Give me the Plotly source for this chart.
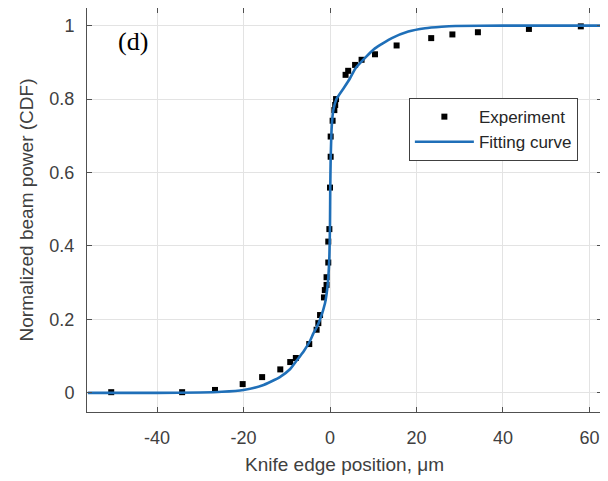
import plotly.graph_objects as go

exp_x = [-50.6, -34.2, -26.6, -20.2, -15.7, -11.5, -9.2, -7.9, -4.8, -3.1, -2.7, -2.3,
         -1.4, -1.2, -0.8, -0.8, -0.4, -0.4, -0.15, 0.0, 0.15, 0.15, 0.6, 1.0, 1.2, 1.4,
         3.6, 4.2, 5.8, 7.3, 10.4, 15.4, 23.4, 28.3, 34.2, 46.0, 58.0]
exp_y = [0.002, 0.002, 0.008, 0.024, 0.043, 0.064, 0.084, 0.095, 0.133, 0.172, 0.19, 0.212,
         0.26, 0.28, 0.294, 0.315, 0.355, 0.412, 0.446, 0.559, 0.643, 0.698, 0.741, 0.77, 0.784, 0.80,
         0.866, 0.877, 0.893, 0.907, 0.922, 0.946, 0.966, 0.976, 0.982, 0.991, 0.998]

# Fitting curve
fit_x = [-56, -40, -30, -25, -20, -15.7, -11.6, -9.2, -7.7, -6.0, -4.6, -3.85, -3.1, -2.3,
         -1.16, -0.5, -0.15, 0.0, 0.05, 0.15, 0.4, 0.77, 1.5, 3.3, 4.6, 5.8, 8.1, 10.4,
         14.3, 18.1, 22.0, 25.8, 29.0, 40.0, 63.0]
fit_y = [0.0, 0.0, 0.001, 0.003, 0.008, 0.02, 0.043, 0.065, 0.088, 0.115, 0.142, 0.162, 0.178, 0.2,
         0.244, 0.299, 0.371, 0.462, 0.55, 0.634, 0.725, 0.77, 0.8, 0.832, 0.856, 0.882, 0.912, 0.938,
         0.966, 0.984, 0.993, 0.997, 0.999, 1.0, 1.0]

x_ticks = [-40, -20, 0, 20, 40, 60]
x_ticktext = ["-40", "-20", "0", "20", "40", "60"]
y_ticks = [0, 0.2, 0.4, 0.6, 0.8, 1]
y_ticktext = ["0", "0.2", "0.4", "0.6", "0.8", "1"]

font_family = "Liberation Sans, Arial, sans-serif"
text_color = "#404040"

fig = go.Figure()
fig.add_trace(go.Scatter(
    x=exp_x, y=exp_y, mode="markers", name="Experiment",
    marker=dict(symbol="square", size=6, color="black"),
))
fig.add_trace(go.Scatter(
    x=fit_x, y=fit_y, mode="lines", name="Fitting curve",
    line=dict(color="#1f6fb8", width=2.6, shape="spline", smoothing=0.5),
))

axis_common = dict(
    showgrid=True, gridcolor="#e3e3e3", gridwidth=1,
    zeroline=False, showline=True, linecolor="#505050", linewidth=1,
    mirror="ticks", ticks="inside", ticklen=5, tickcolor="#505050",
    tickfont=dict(family=font_family, size=18, color=text_color),
)

fig.update_xaxes(
    range=[-56.2, 62.9], tickvals=x_ticks, ticktext=x_ticktext, ticklabelstandoff=9,
    title=dict(text="Knife edge position, μm", font=dict(family=font_family, size=19, color=text_color), standoff=11),
    **axis_common,
)
fig.update_yaxes(
    range=[-0.052, 1.048], tickvals=y_ticks, ticktext=y_ticktext, ticklabelstandoff=8,
    title=dict(text="Normalized beam power (CDF)", font=dict(family=font_family, size=19, color=text_color), standoff=10),
    **axis_common,
)

fig.add_annotation(
    x=0.09, y=0.918, xref="paper", yref="paper", text="(d)", showarrow=False,
    xanchor="center", yanchor="middle",
    font=dict(family="Liberation Serif, Times New Roman, serif", size=26, color="black"),
)

# page body has an 8px margin, so the figure is sized 8px smaller and margins shifted
fig.update_layout(
    width=600, height=473,
    margin=dict(l=79, r=6, t=0, b=69, autoexpand=False),
    plot_bgcolor="white", paper_bgcolor="white",
    showlegend=True,
    legend=dict(
        x=0.625, y=0.777, xanchor="left", yanchor="top",
        bgcolor="white", bordercolor="#404040", borderwidth=1,
        font=dict(family=font_family, size=17, color="#262626"),
        itemwidth=59, entrywidth=172, entrywidthmode="pixels", tracegroupgap=0,
    ),
)

fig.write_html("out.html")
